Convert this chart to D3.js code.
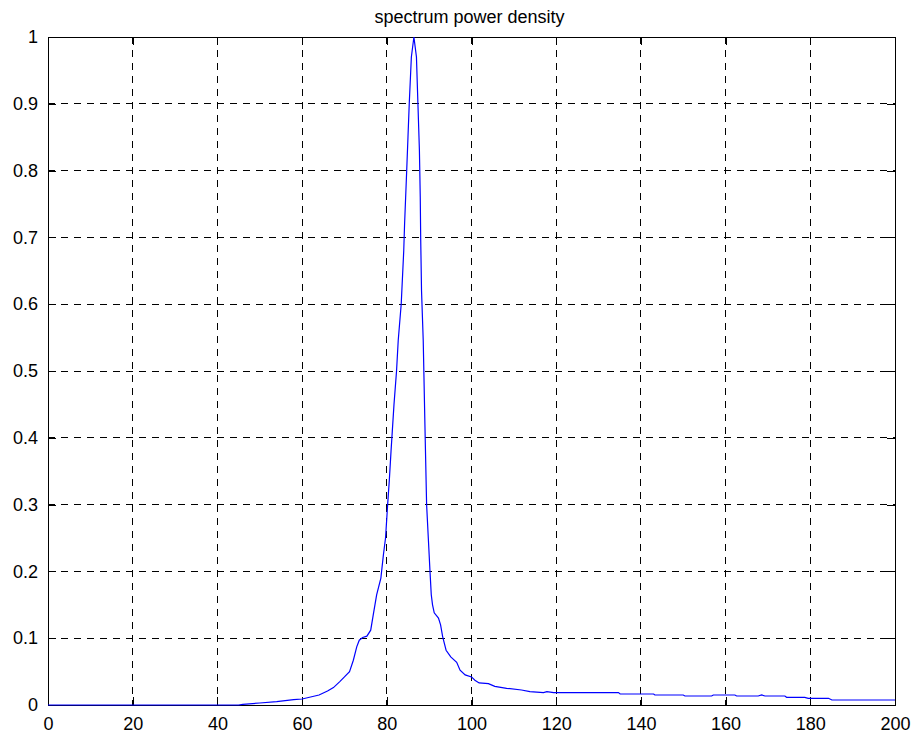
<!DOCTYPE html>
<html>
<head>
<meta charset="utf-8">
<script src="https://cdn.jsdelivr.net/npm/d3@7"></script>
<style>
  body { margin: 0; background: #fff; }
  svg text { font-family: "Liberation Sans", Arial, sans-serif; fill: #000; }
</style>
</head>
<body>
<div id="chart"></div>
<script>
// spectrum power density
var freq = [0, 45, 46, 50, 54, 58, 60, 62, 64, 66, 67.4, 68.9, 70, 71.2, 72.1, 72.9, 73.5, 74.3, 75.3,
	76.2, 76.8, 77.6, 78.6, 79.2, 79.7, 80.2, 80.6, 81.0, 81.3, 81.7, 82.3, 82.7, 83.4, 84.0, 84.2,
	84.7, 85.0, 85.3, 85.8, 86.4, 87.0, 87.35, 87.7, 87.9, 88.0, 88.2, 88.6, 89.0, 89.4, 89.8, 90.2,
	90.5, 90.8, 91.2, 92.2, 92.7, 93.2, 94.0, 95.1, 96.5, 97.3, 98.5, 100, 100.8, 101.8, 104, 105.5,
	108.3, 111.8, 113.8, 117, 117.8, 119.4, 134.7, 135.1, 143, 143.3, 150, 150.4, 156.7, 157.1, 162.2,
	162.6, 167.7, 168.5, 169.3, 174, 174.4, 178.7, 179.5, 184.3, 185.1, 200];
var power = [0, 0, 0.001, 0.003, 0.005, 0.008, 0.009, 0.012, 0.015, 0.021, 0.026, 0.035, 0.042, 0.05,
	0.067, 0.087, 0.097, 0.101, 0.103, 0.112, 0.135, 0.165, 0.19, 0.225, 0.25, 0.30, 0.337, 0.38, 0.41,
	0.45, 0.50, 0.546, 0.60, 0.68, 0.72, 0.80, 0.85, 0.90, 0.97, 1.0, 0.97, 0.90, 0.83, 0.76, 0.70,
	0.62, 0.546, 0.42, 0.30, 0.25, 0.20, 0.165, 0.15, 0.138, 0.13, 0.12, 0.102, 0.082, 0.072, 0.064,
	0.052, 0.045, 0.042, 0.037, 0.033, 0.032, 0.028, 0.025, 0.0225, 0.020, 0.0185, 0.020, 0.0185,
	0.0185, 0.0165, 0.0165, 0.015, 0.015, 0.0135, 0.0135, 0.015, 0.015, 0.0135, 0.0135, 0.015, 0.0135,
	0.0135, 0.0115, 0.0115, 0.010, 0.010, 0.0075, 0.0075];
var xTicks = [0, 20, 40, 60, 80, 100, 120, 140, 160, 180, 200];
var yTicks = [0, 0.1, 0.2, 0.3, 0.4, 0.5, 0.6, 0.7, 0.8, 0.9, 1];
var title = "spectrum power density";

var W = 917, H = 733;
var padL = 48, padR = 895, padT = 37, padB = 705;

var x = d3.scaleLinear().domain([0, 200]).range([padL, padR]);
var y = d3.scaleLinear().domain([0, 1]).range([padB, padT]);
var fmt = function(d) { return String(+d.toFixed(1)); };

var svg = d3.select("#chart").append("svg")
	.attr("width", W)
	.attr("height", H);

// dashed grid
var grid = svg.append("g")
	.attr("stroke", "#000")
	.attr("stroke-width", 1)
	.attr("stroke-dasharray", "7,6")
	.attr("shape-rendering", "crispEdges");
grid.selectAll(".gx").data(xTicks.slice(1, -1)).enter().append("line")
	.attr("x1", function(d) { return x(d); }).attr("x2", function(d) { return x(d); })
	.attr("y1", padT).attr("y2", padB);
grid.selectAll(".gy").data(yTicks.slice(1, -1)).enter().append("line")
	.attr("y1", function(d) { return y(d); }).attr("y2", function(d) { return y(d); })
	.attr("x1", padL).attr("x2", padR);

// axes, ticks pointing inward on all four sides
var tk = 8;
svg.append("g").attr("transform", "translate(0," + padB + ")")
	.call(d3.axisBottom(x).tickValues(xTicks).tickFormat(fmt).tickSizeInner(-tk).tickSizeOuter(0).tickPadding(12));
svg.append("g").attr("transform", "translate(0," + padT + ")")
	.call(d3.axisTop(x).tickValues(xTicks).tickFormat("").tickSizeInner(-tk).tickSizeOuter(0));
svg.append("g").attr("transform", "translate(" + padL + ",0)")
	.call(d3.axisLeft(y).tickValues(yTicks).tickFormat(fmt).tickSizeInner(-tk).tickSizeOuter(0).tickPadding(10));
svg.append("g").attr("transform", "translate(" + padR + ",0)")
	.call(d3.axisRight(y).tickValues(yTicks).tickFormat("").tickSizeInner(-tk).tickSizeOuter(0));

svg.selectAll(".domain").remove();
svg.selectAll(".tick line").attr("stroke", "#000").attr("shape-rendering", "crispEdges");
svg.selectAll(".tick text").attr("font-size", 18).attr("font-family", "Liberation Sans, Arial, sans-serif");

svg.append("rect")
	.attr("x", padL).attr("y", padT)
	.attr("width", padR - padL).attr("height", padB - padT)
	.attr("fill", "none").attr("stroke", "#000")
	.attr("shape-rendering", "crispEdges");

svg.append("clipPath").attr("id", "clip")
	.append("rect").attr("x", padL).attr("y", padT - 2)
	.attr("width", padR - padL).attr("height", padB - padT + 3);

var line = d3.line()
	.x(function(d, i) { return x(freq[i]); })
	.y(function(d) { return y(d); });

svg.append("path")
	.datum(power)
	.attr("clip-path", "url(#clip)")
	.attr("fill", "none")
	.attr("stroke", "#0000ff")
	.attr("stroke-width", 1.2)
	.attr("d", line);

svg.append("text")
	.attr("x", (padL + padR) / 2 - 2)
	.attr("y", 23)
	.attr("text-anchor", "middle")
	.attr("font-size", 18)
	.text(title);
</script>
</body>
</html>
